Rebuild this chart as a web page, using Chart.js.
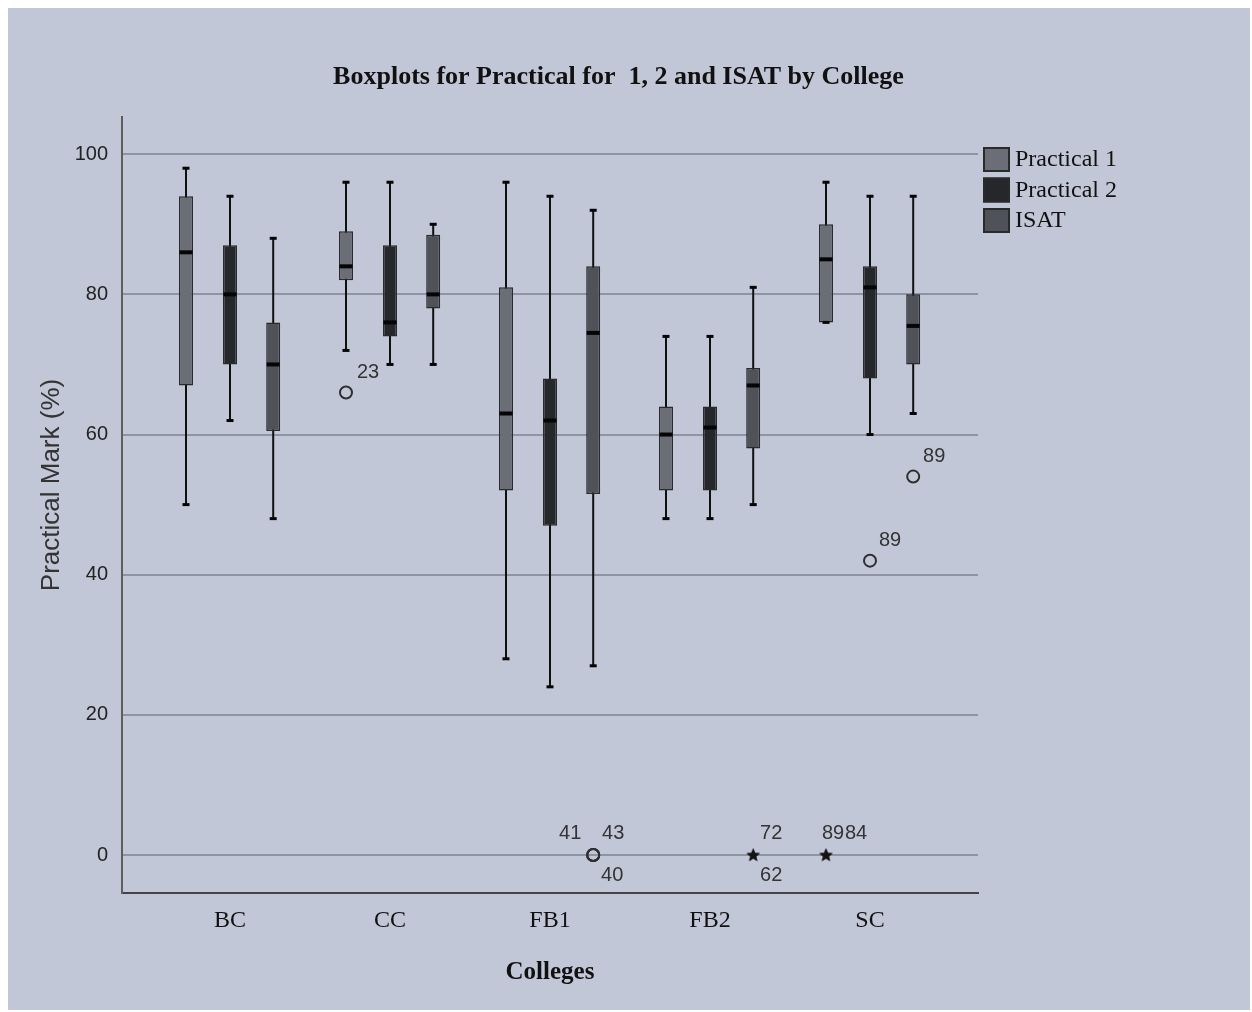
<!DOCTYPE html>
<html>
<head>
<meta charset="utf-8">
<title>Boxplots for Practical for 1, 2 and ISAT by College</title>
<script src="https://cdn.jsdelivr.net/npm/chart.js@4.4.1/dist/chart.umd.min.js"></script>
<style>
  html, body { margin: 0; padding: 0; background: #ffffff; }
  #frame { position: absolute; left: 8px; top: 8px; width: 1242px; height: 1002px; background: #c1c7d7; }
</style>
</head>
<body>
<div id="frame"><canvas id="chart"></canvas></div>
<script>
// ---- data ----
const colleges = ['BC', 'CC', 'FB1', 'FB2', 'SC'];
const seriesNames = ['Practical 1', 'Practical 2', 'ISAT'];
const yTicks = [0, 20, 40, 60, 80, 100];

// [lower whisker, Q1, median, Q3, upper whisker] per college
const practical1 = [[50, 67, 86, 94, 98], [72, 82, 84, 89, 96], [28, 52, 63, 81, 96], [48, 52, 60, 64, 74], [76, 76, 85, 90, 96]];
const practical2 = [[62, 70, 80, 87, 94], [70, 74, 76, 87, 96], [24, 47, 62, 68, 94], [48, 52, 61, 64, 74], [60, 68, 81, 84, 94]];
const isat       = [[48, 60.5, 70, 76, 88], [70, 78, 80, 88.5, 90], [27, 51.5, 74.5, 84, 92], [50, 58, 67, 69.5, 81], [63, 70, 75.5, 80, 94]];

// outlying cases: [college, series, mark, case number]
const outlierCases = [
  ['CC', 'Practical 1', 66, '23'],
  ['SC', 'Practical 2', 42, '89'],
  ['SC', 'ISAT', 54, '89'],
  ['FB1', 'ISAT', 0, '41'],
  ['FB1', 'ISAT', 0, '43'],
  ['FB1', 'ISAT', 0, '40']
];
// extreme cases: [college, series, mark, case number]
const extremeCases = [
  ['FB2', 'ISAT', 0, '72'],
  ['FB2', 'ISAT', 0, '62'],
  ['SC', 'Practical 1', 0, '89'],
  ['SC', 'Practical 1', 0, '84']
];

// ---- styling ----
const summaries = [practical1, practical2, isat];
const seriesFill = ['#6b6e77', '#26272b', '#4f5259'];
const seriesShift = [-0.275, 0, 0.27];          // box offset within a college slot
const outlierLabelShift = [[22, -20], [20, -20], [21, -20], [-23, -22], [20, -22], [19, 20]];
const extremeLabelShift = [[18, -22], [18, 20], [7, -22], [30, -22]];
const serif = "'Liberation Serif', 'Times New Roman', serif";
const sans = "'Liberation Sans', Arial, sans-serif";

const slotOf = (college, series) => colleges.indexOf(college) + seriesShift[seriesNames.indexOf(series)];

// small filled star used for extreme values
const starMark = (() => {
  const c = document.createElement('canvas');
  c.width = 15; c.height = 15;
  const g = c.getContext('2d');
  g.fillStyle = '#141414';
  g.beginPath();
  for (let k = 0; k < 10; k++) {
    const r = k % 2 === 0 ? 7 : 2.9;
    const a = -Math.PI / 2 + k * Math.PI / 5;
    const px = 7.5 + r * Math.cos(a), py = 7.8 + r * Math.sin(a);
    k === 0 ? g.moveTo(px, py) : g.lineTo(px, py);
  }
  g.closePath();
  g.fill();
  return c;
})();

const boxDatasets = summaries.map((rows, s) => ({
  type: 'bar',
  label: seriesNames[s],
  data: rows.map((r, i) => ({ x: i + seriesShift[s], y: [r[1], r[3]] })),
  backgroundColor: seriesFill[s],
  borderColor: '#2a2a2a',
  borderWidth: 1.5,
  borderSkipped: false,
  grouped: false,
  maxBarThickness: 14,
  order: 1
}));

const whiskerDatasets = summaries.map((rows, s) => ({
  type: 'bar',
  label: seriesNames[s] + ' whiskers',
  data: rows.map((r, i) => ({ x: i + seriesShift[s], y: [r[0], r[4]] })),
  backgroundColor: '#101010',
  borderWidth: 0,
  grouped: false,
  maxBarThickness: 2,
  order: 2
}));

const outlierDataset = {
  type: 'scatter',
  label: 'Outliers',
  data: outlierCases.map(c => ({ x: slotOf(c[0], c[1]), y: c[2] })),
  pointStyle: 'circle',
  pointRadius: 6,
  borderWidth: 2,
  borderColor: '#2e2e2e',
  backgroundColor: 'rgba(0,0,0,0)',
  order: 0
};

const extremeDataset = {
  type: 'scatter',
  label: 'Extremes',
  data: extremeCases.map(c => ({ x: slotOf(c[0], c[1]), y: c[2] })),
  pointStyle: starMark,
  pointRadius: 7,
  order: 0
};

// medians, whisker caps and case labels
const boxDetails = {
  id: 'boxDetails',
  afterDatasetsDraw(chart) {
    const { ctx, scales: { x, y } } = chart;
    ctx.save();
    ctx.fillStyle = '#050505';
    summaries.forEach((rows, s) => {
      rows.forEach((r, i) => {
        const cx = x.getPixelForValue(i + seriesShift[s]);
        [r[0], r[4]].forEach(v => {
          const py = y.getPixelForValue(v);
          ctx.fillRect(cx - 3.5, py - 1.5, 7, 3);
        });
        const my = y.getPixelForValue(r[2]);
        ctx.fillRect(cx - 6.5, my - 2, 13, 4);
      });
    });
    ctx.font = '20px ' + sans;
    ctx.fillStyle = '#333333';
    ctx.textAlign = 'center';
    ctx.textBaseline = 'middle';
    const label = (cases, shifts) => cases.forEach((c, k) => {
      const px = x.getPixelForValue(slotOf(c[0], c[1]));
      const py = y.getPixelForValue(c[2]);
      ctx.fillText(c[3], px + shifts[k][0], py + shifts[k][1]);
    });
    label(outlierCases, outlierLabelShift);
    label(extremeCases, extremeLabelShift);
    ctx.restore();
  },
  afterDraw(chart) {
    const { ctx, chartArea } = chart;
    ctx.save();
    // y axis title
    ctx.translate(44, 477);
    ctx.rotate(-Math.PI / 2);
    ctx.font = '26px ' + sans;
    ctx.fillStyle = '#333333';
    ctx.textAlign = 'center';
    ctx.textBaseline = 'middle';
    ctx.fillText('Practical Mark (%)', 0, 0);
    ctx.restore();

    // legend
    ctx.save();
    const left = chartArea.right + 5;
    ctx.font = '24px ' + serif;
    ctx.textBaseline = 'middle';
    ctx.textAlign = 'left';
    boxDatasets.forEach((ds, k) => {
      const top = 139 + k * 30.5;
      ctx.fillStyle = ds.backgroundColor;
      ctx.fillRect(left, top, 27, 25);
      ctx.strokeStyle = '#2a2a2a';
      ctx.lineWidth = 2;
      ctx.strokeRect(left + 1, top + 1, 25, 23);
      ctx.fillStyle = '#111111';
      ctx.fillText(ds.label, left + 32, top + 13);
    });
    ctx.restore();
  }
};

new Chart(document.getElementById('chart'), {
  type: 'bar',
  data: {
    datasets: [...boxDatasets, ...whiskerDatasets, outlierDataset, extremeDataset]
  },
  options: {
    responsive: true,
    maintainAspectRatio: false,
    animation: false,
    events: [],
    layout: { padding: { left: 0, right: 21, top: 0, bottom: 0 } },
    plugins: {
      legend: { display: false },
      tooltip: { enabled: false },
      title: {
        display: true,
        text: 'Boxplots for Practical for  1, 2 and ISAT by College',
        color: '#111111',
        font: { family: serif, size: 26, weight: 'bold' },
        padding: { top: 54, bottom: 24 }
      }
    },
    scales: {
      x: {
        type: 'linear',
        position: 'bottom',
        offset: false,
        min: -0.675,
        max: 4.675,
        afterBuildTicks: s => { s.ticks = colleges.map((_, i) => ({ value: i })); },
        afterFit: s => { s.height = 117; },
        grid: { display: false, drawTicks: false, offset: false },
        border: { display: true, color: '#444444', width: 2 },
        ticks: {
          autoSkip: false,
          maxRotation: 0,
          padding: 13,
          color: '#111111',
          font: { family: serif, size: 24 },
          callback: v => colleges[v]
        },
        title: {
          display: true,
          text: 'Colleges',
          color: '#111111',
          font: { family: serif, size: 25, weight: 'bold' },
          padding: { top: 0, bottom: 22 }
        }
      },
      y: {
        type: 'linear',
        position: 'left',
        min: -5.42,
        max: 105.28,
        afterBuildTicks: s => { s.ticks = yTicks.map(v => ({ value: v })); },
        afterFit: s => { s.width = 114; },
        grid: { color: '#8e94a4', lineWidth: 2, drawTicks: false },
        border: { display: true, color: '#5e5e5e', width: 2 },
        ticks: {
          padding: 14,
          color: '#222222',
          font: { family: sans, size: 20 }
        }
      },
      legendSpace: {
        type: 'linear',
        axis: 'y',
        position: 'right',
        display: true,
        afterFit: s => { s.width = 251; },
        grid: { display: false, drawTicks: false },
        border: { display: false },
        ticks: { display: false }
      }
    }
  },
  plugins: [boxDetails]
});
</script>
</body>
</html>
